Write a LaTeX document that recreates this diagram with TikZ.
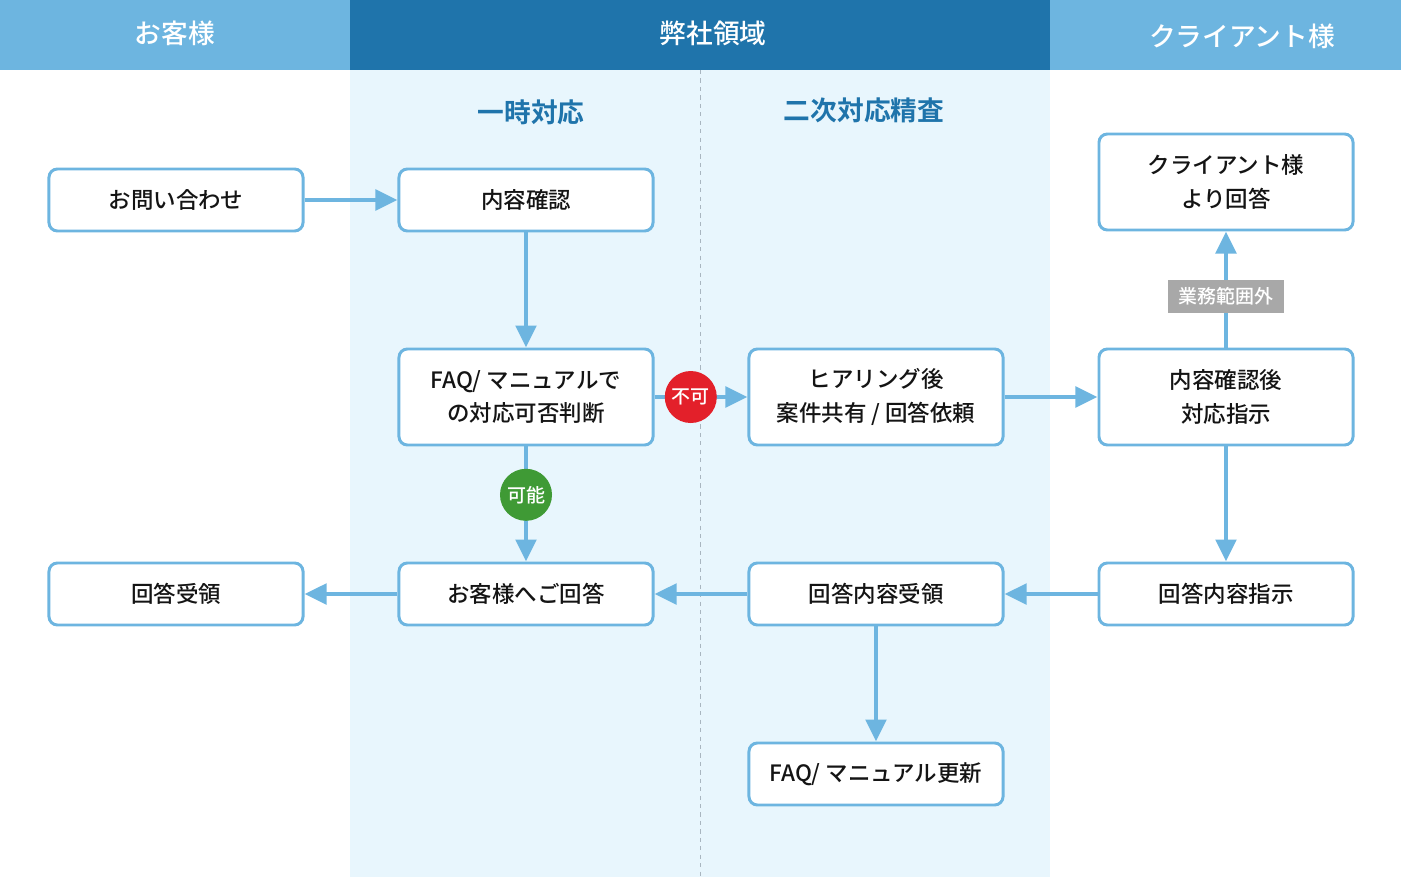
\documentclass[tikz,border=0pt]{standalone}
\usepackage{fontspec}
\setmainfont{Noto Sans CJK JP}[BoldFont={Noto Sans CJK JP Medium}]
\newfontfamily\heavyjp{Noto Sans CJK JP}[UprightFont={* Bold}]
\definecolor{headlight}{HTML}{6DB5E0}
\definecolor{headdark}{HTML}{1F74AB}
\definecolor{zonebg}{HTML}{E8F6FD}
\definecolor{edgeblue}{HTML}{6DB5E0}
\definecolor{darktext}{HTML}{141414}
\definecolor{ngred}{HTML}{E3202A}
\definecolor{okgreen}{HTML}{3F9A35}
\definecolor{tagbg}{HTML}{A8A8A8}
\definecolor{divider}{HTML}{A9B6C0}
\usetikzlibrary{arrows.meta}
\tikzset{
  flowbox/.style={
    draw=edgeblue, fill=white, line width=2.1pt, rounded corners=6pt,
    minimum width=6.35cm, minimum height=1.55cm, inner sep=0pt,
    font=\fontsize{16}{24}\selectfont\bfseries, text=darktext, align=center
  },
  tall/.style={minimum height=2.4cm},
  headtext/.style={font=\fontsize{19}{19}\selectfont\bfseries, text=white},
  zonetext/.style={font=\fontsize{19}{19}\selectfont\heavyjp, text=headdark},
  flow/.style={draw=edgeblue, line width=3.5pt, -{Triangle[length=0.55cm, width=0.5cm]}},
  badge/.style={
    circle, fill=#1, minimum size=1.3cm, inner sep=0pt,
    font=\fontsize{13.5}{13.5}\selectfont\bfseries, text=white
  },
  badge/.default=ngred,
  tag/.style={
    fill=tagbg, minimum width=2.875cm, minimum height=0.825cm, inner sep=0pt,
    font=\fontsize{13.5}{13.5}\selectfont\bfseries, text=white
  },
}
\begin{document}
\begin{tikzpicture}[x=0.025cm, y=-0.025cm]
  \useasboundingbox (0,0) rectangle (1401,877);

  % Zones
  \fill[zonebg] (350,70) rectangle (1050,877);
  \draw[divider, dashed, line width=0.6pt] (700,70) -- (700,877);

  % Header
  \fill[headlight] (0,0) rectangle (350,70);
  \fill[headdark] (350,0) rectangle (1050,70);
  \fill[headlight] (1050,0) rectangle (1401,70);
  \node[headtext] (hcust) at (175,33) {お客様};
  \node[headtext] (hours) at (713,33) {弊社領域};
  \node[headtext] (hclient) at (1242,36) {クライアント様};
  \node[zonetext] (first) at (531,112) {一時対応};
  \node[zonetext] (second) at (864,110) {二次対応精査};

  % Boxes
  \node[flowbox] (ask) at (176,200) {お問い合わせ};
  \node[flowbox] (check) at (526,200) {内容確認};
  \node[flowbox, tall] (clans) at (1226,182) {クライアント様\\より回答};
  \node[flowbox, tall] (judge) at (526,397) {FAQ/ マニュアルで\\の対応可否判断};
  \node[flowbox, tall] (hear) at (876,397) {ヒアリング後\\案件共有 / 回答依頼};
  \node[flowbox, tall] (instr) at (1226,397) {内容確認後\\対応指示};
  \node[flowbox] (recv) at (176,594) {回答受領};
  \node[flowbox] (reply) at (526,594) {お客様へご回答};
  \node[flowbox] (got) at (876,594) {回答内容受領};
  \node[flowbox] (order) at (1226,594) {回答内容指示};
  \node[flowbox] (update) at (876,774) {FAQ/ マニュアル更新};

  % Arrows
  \draw[flow] (ask) -- (check);
  \draw[flow] (check) -- (judge);
  \draw[flow] (judge) -- node[badge=ngred, pos=.39] (ng) {不可} (hear);
  \draw[flow] (judge) -- node[badge=okgreen, pos=.42] (ok) {可能} (reply);
  \draw[flow] (hear) -- (instr);
  \draw[flow] (instr) -- node[tag, pos=.44] (outscope) {業務範囲外} (clans);
  \draw[flow] (instr) -- (order);
  \draw[flow] (order) -- (got);
  \draw[flow] (got) -- (reply);
  \draw[flow] (reply) -- (recv);
  \draw[flow] (got) -- (update);
\end{tikzpicture}
\end{document}
